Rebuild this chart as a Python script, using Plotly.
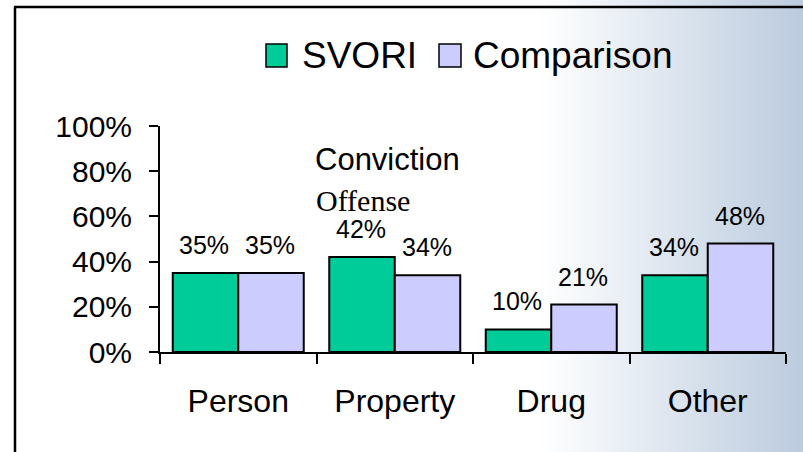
import plotly.graph_objects as go

categories = ["Person", "Property", "Drug", "Other"]
series_names = ["SVORI", "Comparison"]
svori = [35, 42, 10, 34]
comparison = [35, 34, 21, 48]
y_ticks = [0, 20, 40, 60, 80, 100]
y_tick_labels = [f"{v}%" for v in y_ticks]
note_line1 = "Conviction"
note_line2 = "Offense"

colors = ["#00CC99", "#CCCCFF"]
W, H = 803, 452
L, R, T, B = 160, 17, 126, 100
PW, PH = W - L - R, H - T - B
SANS = "Liberation Sans, Arial, sans-serif"
SERIF = "Liberation Serif, Times New Roman, serif"


def px_x(px):
    return (px - L) / PW


def px_y(py):
    return (H - B - py) / PH


fig = go.Figure()
for name, vals, col in zip(series_names, [svori, comparison], colors):
    fig.add_trace(go.Bar(
        x=categories, y=vals, name=name,
        marker=dict(color=col, line=dict(color="black", width=2)),
        showlegend=False,
    ))

shapes = []
# background gradient on the right side
g0, g1 = 540, W
c1 = (187, 203, 222)
step = 2
x = g0
while x < g1:
    t = (x - g0 + step / 2) / (g1 - g0)
    r = round(255 + (c1[0] - 255) * t)
    g = round(255 + (c1[1] - 255) * t)
    b = round(255 + (c1[2] - 255) * t)
    shapes.append(dict(type="rect", xref="paper", yref="paper",
                       x0=px_x(x), x1=px_x(min(x + step + 0.5, g1 + 1)),
                       y0=px_y(H + 2), y1=px_y(-2),
                       fillcolor=f"rgb({r},{g},{b})", line=dict(width=0),
                       layer="below"))
    x += step

# frame lines
shapes.append(dict(type="line", xref="paper", yref="paper",
                   x0=px_x(15), x1=px_x(15), y0=px_y(H + 2), y1=px_y(7),
                   line=dict(color="black", width=2.5), layer="above"))
shapes.append(dict(type="line", xref="paper", yref="paper",
                   x0=px_x(14), x1=px_x(W + 2), y0=px_y(7), y1=px_y(7),
                   line=dict(color="black", width=2.5), layer="above"))

annotations = []
# legend (manual, large squares)
leg_sq = [(266, 287), (439, 461)]
leg_tx = [300, 471]
for name, col, (a, b_), tx in zip(series_names, colors, leg_sq, leg_tx):
    shapes.append(dict(type="rect", xref="paper", yref="paper",
                       x0=px_x(a), x1=px_x(b_), y0=px_y(67), y1=px_y(44),
                       fillcolor=col, line=dict(color="black", width=1.5),
                       layer="above"))
    annotations.append(dict(xref="paper", yref="paper", x=px_x(tx), y=px_y(56),
                            text=name, showarrow=False, xanchor="left",
                            yanchor="middle",
                            font=dict(family=SANS, size=37, color="black")))

# data labels
for vals, xs in zip([svori, comparison], [-34, 32]):
    for c, v in zip(categories, vals):
        annotations.append(dict(x=c, y=v, xref="x", yref="y", text=f"{v}%",
                                showarrow=False, xshift=xs, yshift=28,
                                yanchor="middle",
                                font=dict(family=SANS, size=25, color="black")))

# side note
annotations.append(dict(xref="paper", yref="paper", x=px_x(313), y=px_y(159),
                        text=note_line1, showarrow=False, xanchor="left",
                        yanchor="middle",
                        font=dict(family=SANS, size=31, color="black")))
annotations.append(dict(xref="paper", yref="paper", x=px_x(314), y=px_y(200),
                        text=note_line2, showarrow=False, xanchor="left",
                        yanchor="middle",
                        font=dict(family=SERIF, size=30, color="black")))

fig.update_layout(
    width=W, height=H,
    margin=dict(l=L, r=R, t=T, b=B, pad=0),
    paper_bgcolor="white", plot_bgcolor="rgba(0,0,0,0)",
    barmode="group", bargap=0.163, bargroupgap=0,
    shapes=shapes, annotations=annotations,
    xaxis=dict(
        showline=True, linecolor="black", linewidth=2,
        ticks="outside", tickson="boundaries", ticklen=10, tickwidth=2,
        tickcolor="black", showgrid=False, zeroline=False,
        tickfont=dict(family=SANS, size=32, color="black"),
        ticklabelstandoff=20,
    ),
    yaxis=dict(
        range=[0, 100], tickvals=y_ticks, ticktext=y_tick_labels,
        showline=True, linecolor="black", linewidth=2,
        ticks="outside", ticklen=9, tickwidth=2, tickcolor="black",
        showgrid=False, zeroline=False,
        tickfont=dict(family=SANS, size=30, color="black"),
        ticklabelstandoff=11,
    ),
)

fig.write_html(
    "out.html",
    config={"displayModeBar": False},
    post_script="document.body.style.margin='0';document.body.style.overflow='hidden';",
)
